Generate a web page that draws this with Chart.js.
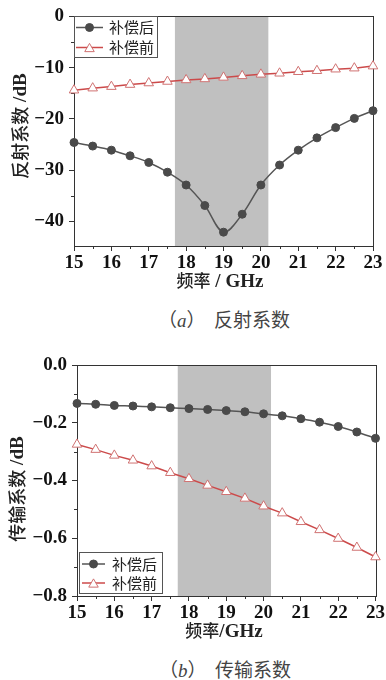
<!DOCTYPE html>
<html><head><meta charset="utf-8">
<script src="https://cdn.jsdelivr.net/npm/chart.js@4.4.0/dist/chart.umd.min.js"></script>
<style>
html,body{margin:0;padding:0;background:#fff;width:386px;height:680px;overflow:hidden;position:relative}
canvas{position:absolute;left:0}
.cap{position:absolute;transform:translateX(-50%);white-space:nowrap;font-family:"Noto Sans CJK SC";font-size:19px;color:#444;line-height:1}
.cap i{font-family:"Liberation Serif";font-style:italic}
</style></head><body>
<canvas id="c1" width="386" height="300" style="top:0"></canvas>
<canvas id="c2" width="386" height="310" style="top:340px"></canvas>
<div class="cap" style="left:224px;top:309px">（<i>a</i>）&nbsp;&nbsp;反射系数</div>
<div class="cap" style="left:225px;top:659px">（<i>b</i>）&nbsp;&nbsp;传输系数</div>
<script>
// ---- data ----
const freq = [15,15.5,16,16.5,17,17.5,18,18.5,19,19.5,20,20.5,21,21.5,22,22.5,23];
const seriesNames = ['补偿后','补偿前'];
const reflAfter = [-24.6,-25.3,-26.1,-27.2,-28.5,-30.4,-32.9,-36.9,-42.1,-38.6,-32.9,-29.0,-26.1,-23.7,-21.7,-19.9,-18.4];
const reflBefore = [-14.4,-14.0,-13.7,-13.3,-13.0,-12.7,-12.4,-12.2,-11.9,-11.6,-11.3,-11.1,-10.8,-10.6,-10.3,-10.1,-9.7];
const transAfter = [-0.133,-0.136,-0.140,-0.142,-0.145,-0.148,-0.151,-0.154,-0.158,-0.162,-0.169,-0.176,-0.186,-0.198,-0.213,-0.232,-0.254];
const transBefore = [-0.275,-0.293,-0.313,-0.330,-0.350,-0.373,-0.394,-0.417,-0.439,-0.462,-0.489,-0.513,-0.543,-0.571,-0.601,-0.632,-0.665];
const band = [17.7, 20.2];
const xTicks = [15,16,17,18,19,20,21,22,23];
const yTicks1 = [0,-10,-20,-30,-40];
const yTicks2 = [0,-0.2,-0.4,-0.6,-0.8];

const pts = (ys) => ys.map((y,i)=>({x:freq[i], y}));
const minus = s => s.replace('-', '\u2212');

const CJK = '"Noto Sans CJK SC"';
const SERIF = '"Liberation Serif"';

const decor = {
  id:'decor',
  beforeDatasetsDraw(chart, args, o){
    const {ctx, chartArea:a, scales:{x,y}} = chart;
    ctx.save();
    const x0 = x.getPixelForValue(band[0]), x1 = x.getPixelForValue(band[1]);
    ctx.fillStyle = '#c0c0c0';
    ctx.fillRect(x0, a.top, x1-x0, a.bottom-a.top);
    ctx.strokeStyle = '#333'; ctx.lineWidth = 1;
    ctx.strokeRect(Math.round(a.left)+0.5, Math.round(a.top)+0.5, Math.round(a.right-a.left), Math.round(a.bottom-a.top));
    ctx.beginPath();
    for (let v = x.min; v <= x.max+1e-9; v += o.minorX){
      if (xTicks.some(t=>Math.abs(t-v)<1e-6)) continue;
      const px = Math.round(x.getPixelForValue(v))+0.5;
      ctx.moveTo(px, a.bottom); ctx.lineTo(px, a.bottom+3);
    }
    for (let v = y.max; v >= y.min-1e-9; v -= o.minorY){
      if (o.yt.some(t=>Math.abs(t-v)<1e-6)) continue;
      const py = Math.round(y.getPixelForValue(v))+0.5;
      ctx.moveTo(a.left, py); ctx.lineTo(a.left-3, py);
    }
    ctx.stroke();
    ctx.restore();
  },
  afterDatasetsDraw(chart, args, o){
    const {ctx} = chart;
    ctx.save();
    const L = o.legend;
    ctx.fillStyle = '#fff';
    ctx.fillRect(L.x, L.y, L.w, L.h);
    ctx.strokeStyle = '#555'; ctx.lineWidth = 1;
    ctx.strokeRect(L.x+0.5, L.y+0.5, L.w, L.h);
    chart.data.datasets.forEach((ds, i) => {
      const ry = L.rows[i];
      ctx.strokeStyle = ds.borderColor; ctx.lineWidth = 1.5;
      ctx.beginPath(); ctx.moveTo(L.lx0, ry); ctx.lineTo(L.lx1, ry); ctx.stroke();
      const mx = (L.lx0+L.lx1)/2;
      ctx.fillStyle = ds.pointBackgroundColor; ctx.strokeStyle = ds.pointBorderColor; ctx.lineWidth = 1;
      ctx.beginPath();
      if (ds.pointStyle === 'circle') ctx.arc(mx, ry, ds.pointRadius, 0, Math.PI*2);
      else { const r = ds.pointRadius; let a = 0;
        for (let k=0;k<3;k++){ const px = mx+Math.sin(a)*r, py = ry-Math.cos(a)*r+r/4; k?ctx.lineTo(px,py):ctx.moveTo(px,py); a += 2*Math.PI/3; }
        ctx.closePath(); }
      ctx.fill(); ctx.stroke();
      ctx.fillStyle = '#222'; ctx.font = '15px ' + CJK; ctx.textBaseline = 'middle'; ctx.textAlign='left';
      ctx.fillText(ds.label, L.tx, ry);
    });
    const drawParts = (t, rot) => {
      ctx.save();
      ctx.translate(t.cx, t.cy); if (rot) ctx.rotate(-Math.PI/2);
      let w = 0; t.parts.forEach(p => { ctx.font = p.f; p.w = ctx.measureText(p.t).width; w += p.w; });
      let xx = -w/2; ctx.textBaseline = 'middle'; ctx.textAlign = 'left'; ctx.fillStyle = '#222';
      t.parts.forEach(p => { ctx.font = p.f; ctx.fillText(p.t, xx, p.dy||0); xx += p.w; });
      ctx.restore();
    };
    drawParts(o.xTitle, false);
    drawParts(o.yTitle, true);
    ctx.restore();
  }
};

function makeChart(id, after, before, yMin, yTicks, yFmt, area, canvasH, extra){
  return new Chart(document.getElementById(id), {
    type:'line',
    data:{datasets:[
      {label:seriesNames[0], data:pts(after), borderColor:'#555', borderWidth:1.5, pointStyle:'circle', pointRadius:4,
       pointBackgroundColor:'#4a4a4a', pointBorderColor:'#4a4a4a', pointBorderWidth:1, tension:extra.tension, clip:false},
      {label:seriesNames[1], data:pts(before), borderColor:'#cc4a4a', borderWidth:1.5, pointStyle:'triangle', pointRadius:5.5,
       pointBackgroundColor:'#fff', pointBorderColor:'#d07272', pointBorderWidth:1, tension:0, clip:false}
    ]},
    options:{
      responsive:false, animation:false,
      layout:{padding:{left:0, right:386-area.right, top:area.top, bottom:0}},
      plugins:{legend:{display:false}, tooltip:{enabled:false},
        decor:{minorX:0.5, minorY:extra.minorY, yt:yTicks, legend:extra.legend, xTitle:extra.xTitle, yTitle:extra.yTitle}},
      scales:{
        x:{type:'linear', min:15, max:23,
           afterFit(s){ s.height = canvasH - area.bottom; },
           afterBuildTicks(s){ s.ticks = xTicks.map(v=>({value:v})); },
           grid:{display:true, drawOnChartArea:false, tickLength:5, color:'#333', tickColor:'#333'},
           border:{color:'#333', width:1},
           ticks:{autoSkip:false, maxRotation:0, padding:1, color:'#111', font:{family:'Liberation Serif', weight:'bold', size:19}, callback:v=>String(v)}},
        y:{type:'linear', min:yMin, max:0,
           afterFit(s){ s.width = area.left; },
           afterBuildTicks(s){ s.ticks = yTicks.map(v=>({value:v})); },
           grid:{display:true, drawOnChartArea:false, tickLength:5, color:'#333', tickColor:'#333'},
           border:{color:'#333', width:1},
           ticks:{autoSkip:false, padding:5, color:'#111', font:{family:'Liberation Serif', weight:'bold', size:19}, callback:yFmt}}
      }
    },
    plugins:[decor]
  });
}

makeChart('c1', reflAfter, reflBefore, -44.8, yTicks1, v=>minus(String(v)),
  {left:74, right:373, top:16, bottom:246}, 300,
  {tension:0.35, minorY:5,
   legend:{x:74, y:16, w:83, h:41, rows:[27.5,47.5], lx0:76, lx1:103, tx:109},
   xTitle:{cx:220, cy:281, parts:[{t:'频率', f:'500 17px '+CJK},{t:' / GHz', f:'bold 19px '+SERIF, dy:1}]},
   yTitle:{cx:20, cy:126, parts:[{t:'反射系数', f:'500 18px '+CJK},{t:' /dB', f:'bold 19px '+SERIF, dy:1}]}});

makeChart('c2', transAfter, transBefore, -0.8, yTicks2, v=>minus(Number(v).toFixed(1)),
  {left:77, right:376, top:25, bottom:256}, 310,
  {tension:0.3, minorY:0.1,
   legend:{x:79, y:212, w:83, h:41, rows:[224,243], lx0:82, lx1:105, tx:112},
   xTitle:{cx:224, cy:291, parts:[{t:'频率', f:'500 17px '+CJK},{t:'/GHz', f:'bold 19px '+SERIF, dy:1}]},
   yTitle:{cx:17, cy:149, parts:[{t:'传输系数', f:'500 18px '+CJK},{t:' /dB', f:'bold 19px '+SERIF, dy:1}]}});
</script>
</body></html>
